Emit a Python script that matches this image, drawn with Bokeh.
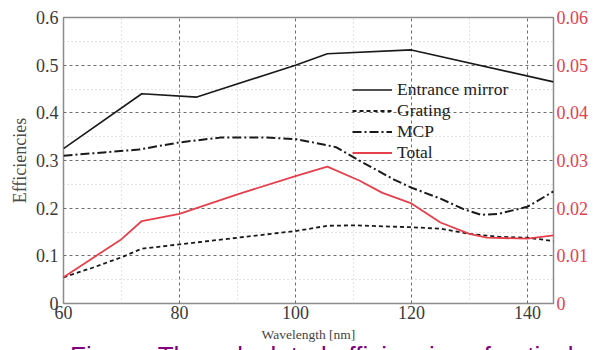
from bokeh.plotting import figure
from bokeh.layouts import column
from bokeh.models import (Range1d, LinearAxis, FixedTicker, CustomJSTickFormatter,
                          Legend, LegendItem, Title, Div)
from bokeh.embed import file_html
from bokeh.resources import INLINE

# ---- data ----
wl_mirror = [60, 73.5, 83, 100, 105.5, 120, 144.5]
eff_mirror = [0.325, 0.44, 0.433, 0.50, 0.524, 0.532, 0.465]

wl_grating = [60, 65, 70, 73.5, 80, 90, 100, 105.5, 110, 120, 125, 130, 135, 140, 144.5]
eff_grating = [0.055, 0.075, 0.097, 0.115, 0.124, 0.138, 0.152, 0.163, 0.164, 0.160,
               0.157, 0.146, 0.140, 0.138, 0.131]

wl_mcp = [60, 73, 80, 87, 95, 100, 103, 107, 111, 114, 117, 120, 125, 129, 132, 135, 140, 144.5]
eff_mcp = [0.310, 0.323, 0.338, 0.348, 0.348, 0.345, 0.338, 0.328, 0.300, 0.280, 0.260,
           0.243, 0.220, 0.198, 0.186, 0.188, 0.203, 0.235]

wl_total = [60, 65, 70, 73.5, 80, 90, 100, 105.5, 111, 115, 120, 125, 130, 133, 140, 144.5]
eff_total = [0.0055, 0.0095, 0.0135, 0.0173, 0.0188, 0.0229, 0.0267, 0.0287, 0.0258,
             0.0232, 0.0210, 0.0170, 0.0146, 0.0138, 0.0136, 0.0143]

x_ticks = [60, 80, 100, 120, 140]
x_minor = [70, 90, 110, 130]
y_ticks = [0, 0.1, 0.2, 0.3, 0.4, 0.5, 0.6]
y_minor = [0.05, 0.15, 0.25, 0.35, 0.45, 0.55]
y2_ticks = [0, 0.01, 0.02, 0.03, 0.04, 0.05, 0.06]

series_names = ["Entrance mirror", "Grating", "MCP", "Total"]
x_title = "Wavelength [nm]"
y_title = "Efficiencies"
caption = "Figure: The calculated efficiencies of optical"

SERIF = "Liberation Serif"
RED = "#e5404c"
PURPLE = "#800080"

p = figure(frame_width=490, frame_height=286,
           min_border_left=63, min_border_right=42, min_border_top=17, min_border_bottom=42,
           x_range=Range1d(60, 144.5), y_range=Range1d(0, 0.6),
           output_backend="svg", toolbar_location=None,
           background_fill_color="white", border_fill_color="white")
p.extra_y_ranges = {"right": Range1d(0, 0.06)}

p.outline_line_color = "#8c8c8c"
p.outline_line_width = 1.5

fmt = CustomJSTickFormatter(code="return String(Number(tick.toFixed(3)));")

for ax in (p.xaxis[0], p.yaxis[0]):
    ax.axis_line_color = None
    ax.major_tick_line_color = None
    ax.minor_tick_line_color = None
    ax.major_tick_out = 0
    ax.minor_tick_out = 0
    ax.major_label_text_font = SERIF
    ax.major_label_text_font_size = "18px"
    ax.major_label_text_color = "#3a3a3a"
    ax.formatter = fmt

p.xaxis[0].major_label_standoff = 2
p.yaxis[0].major_label_standoff = 5
p.xaxis[0].ticker = FixedTicker(ticks=x_ticks, minor_ticks=x_minor)
p.yaxis[0].ticker = FixedTicker(ticks=y_ticks, minor_ticks=y_minor)

p.xaxis[0].axis_label = x_title
p.xaxis[0].axis_label_standoff = 5
p.xaxis[0].axis_label_text_font = SERIF
p.xaxis[0].axis_label_text_font_size = "13.5px"
p.xaxis[0].axis_label_text_font_style = "normal"
p.xaxis[0].axis_label_text_color = "#444444"

ax2 = LinearAxis(y_range_name="right", ticker=FixedTicker(ticks=y2_ticks), formatter=fmt)
ax2.axis_line_color = None
ax2.major_tick_line_color = None
ax2.minor_tick_line_color = None
ax2.major_tick_out = 0
ax2.minor_tick_out = 0
ax2.major_label_text_font = SERIF
ax2.major_label_text_font_size = "18px"
ax2.major_label_text_color = RED
ax2.major_label_standoff = 3
p.add_layout(ax2, "right")

ytitle = Title(text=y_title, align="center", offset=0, standoff=6,
               text_font=SERIF, text_font_size="18px", text_font_style="normal",
               text_color="#4a4a4a")
p.add_layout(ytitle, "left")

for g in (p.xgrid[0], p.ygrid[0]):
    g.grid_line_color = "#6e6e6e"
    g.grid_line_dash = "3 3"
    g.grid_line_width = 1
    g.minor_grid_line_color = "#c4c4c4"
    g.minor_grid_line_dash = "1 3"
    g.minor_grid_line_width = 1

r_mirror = p.line(wl_mirror, eff_mirror, line_color="#1a1a1a", line_width=1.6)
r_grating = p.line(wl_grating, eff_grating, line_color="#1a1a1a", line_width=1.8, line_dash="4 3")
r_mcp = p.line(wl_mcp, eff_mcp, line_color="#1a1a1a", line_width=2, line_dash="9 3 2 3")
r_total = p.line(wl_total, eff_total, line_color=RED, line_width=1.8, y_range_name="right")

legend = Legend(items=[LegendItem(label=series_names[0], renderers=[r_mirror]),
                       LegendItem(label=series_names[1], renderers=[r_grating]),
                       LegendItem(label=series_names[2], renderers=[r_mcp]),
                       LegendItem(label=series_names[3], renderers=[r_total])],
                location=(289, 140), padding=0, spacing=0, margin=0,
                glyph_width=40, glyph_height=17, label_height=17, label_standoff=5,
                label_text_font=SERIF, label_text_font_size="17.5px",
                label_text_color="#222222",
                background_fill_alpha=0, border_line_color=None)
p.add_layout(legend, "center")

cap = Div(text=('<div style="margin-top:-2px;margin-left:70px;white-space:nowrap;'
                'font-family:\'Liberation Sans\';font-size:26px;line-height:26px;'
                'color:%s">%s</div>' % (PURPLE, caption)),
          width=595, height=5, margin=0, styles={"overflow": "hidden"})

layout = column(p, cap, spacing=0)

open("out.html", "w").write(file_html(layout, INLINE))
